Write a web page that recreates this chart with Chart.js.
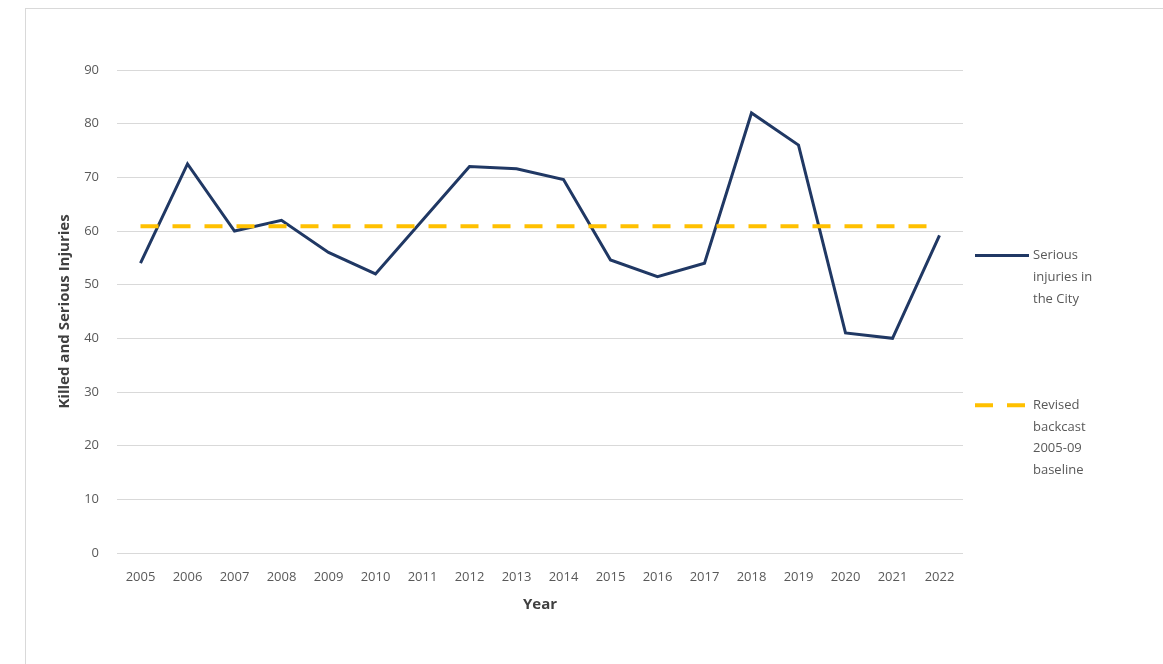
<!DOCTYPE html>
<html>
<head>
<meta charset="utf-8">
<script src="https://cdn.jsdelivr.net/npm/chart.js@4/dist/chart.umd.min.js"></script>
<style>
  html, body { margin: 0; padding: 0; background: #ffffff; }
  #frame {
    position: absolute; left: 25px; top: 8px;
    width: 1160px; height: 680px;
    border: 1px solid #d9d9d9; box-sizing: border-box;
  }
  #wrap { position: absolute; left: 0; top: 0; width: 1163px; height: 664px; }
</style>
</head>
<body>
<div id="frame"></div>
<div id="wrap"><canvas id="kc" width="1163" height="664"></canvas></div>
<script>
// Years on the horizontal axis
const years = ['2005','2006','2007','2008','2009','2010','2011','2012','2013',
               '2014','2015','2016','2017','2018','2019','2020','2021','2022'];

// Killed and serious injuries recorded in the City each year
const seriousInjuries = [54, 72.5, 60, 62, 56, 52, 62, 72, 71.6, 69.6, 54.6, 51.5, 54, 82, 76, 41, 40, 59.2];

// Revised backcast 2005-09 baseline, held flat across the period
const baseline = [60.9, 60.9, 60.9, 60.9, 60.9, 60.9, 60.9, 60.9, 60.9,
                  60.9, 60.9, 60.9, 60.9, 60.9, 60.9, 60.9, 60.9, 60.9];

// Value axis ticks
const yTicks = [0, 10, 20, 30, 40, 50, 60, 70, 80, 90];

const seriesNames = [
  ['Serious', 'injuries in', 'the City'],
  ['Revised', 'backcast', '2005-09', 'baseline']
];

const FONT = "'Open Sans', 'Noto Sans', sans-serif";
const NAVY = '#203864';
const GOLD = '#FFC000';

// Side legend with wrapped labels, laid out to the right of the plot
const sideLegend = {
  id: 'sideLegend',
  afterDraw(chart) {
    const { ctx, chartArea } = chart;
    const h = chartArea.bottom - chartArea.top;
    const x0 = chartArea.right + 12;
    const x1 = x0 + 54;
    const tx = x1 + 4;
    const rows = [chartArea.top + h * 0.384, chartArea.top + h * 0.694];
    const lh = 21.7;
    ctx.save();
    chart.data.datasets.forEach((ds) => {
      const i = ds.legendIndex;
      const y = rows[i];
      ctx.beginPath();
      ctx.strokeStyle = ds.borderColor;
      ctx.lineWidth = ds.borderWidth;
      ctx.setLineDash(ds.borderDash || []);
      ctx.lineCap = 'butt';
      ctx.moveTo(x0, y);
      ctx.lineTo(x1, y);
      ctx.stroke();
      ctx.setLineDash([]);
      ctx.fillStyle = '#595959';
      ctx.font = '13px ' + FONT;
      ctx.textAlign = 'left';
      ctx.textBaseline = 'middle';
      seriesNames[i].forEach((line, k) => ctx.fillText(line, tx, y + k * lh));
    });
    ctx.restore();
  }
};

new Chart(document.getElementById('kc'), {
  type: 'line',
  data: {
    labels: years,
    datasets: [
      {
        label: seriesNames[0].join(' '),
        legendIndex: 0,
        data: seriousInjuries,
        borderColor: NAVY,
        borderWidth: 3,
        pointRadius: 0,
        tension: 0,
        fill: false,
        order: 1
      },
      {
        label: seriesNames[1].join(' '),
        legendIndex: 1,
        data: baseline,
        borderColor: GOLD,
        borderWidth: 4,
        borderDash: [18, 14],
        borderCapStyle: 'butt',
        pointRadius: 0,
        tension: 0,
        fill: false,
        order: 0
      }
    ]
  },
  options: {
    responsive: false,
    animation: false,
    devicePixelRatio: 1,
    layout: { padding: { left: 52, top: 70, right: 200, bottom: 46 } },
    plugins: {
      legend: { display: false },
      tooltip: { enabled: false }
    },
    scales: {
      x: {
        offset: true,
        grid: { display: false, drawTicks: false },
        border: { display: false },
        ticks: {
          color: '#595959',
          font: { family: FONT, size: 13 },
          padding: 16,
          maxRotation: 0,
          autoSkip: false
        },
        title: {
          display: true,
          text: 'Year',
          color: '#404040',
          font: { family: FONT, size: 15, weight: 'bold' },
          padding: { top: 4, bottom: 4 }
        },
        afterFit(scale) { scale.height = 65; }
      },
      y: {
        min: 0,
        max: 90,
        afterBuildTicks(scale) { scale.ticks = yTicks.map(v => ({ value: v })); },
        grid: { color: '#d9d9d9', lineWidth: 1, drawTicks: false },
        border: { display: false },
        ticks: {
          color: '#595959',
          font: { family: FONT, size: 13 },
          padding: 18
        },
        title: {
          display: true,
          text: 'Killed and Serious Injuries',
          color: '#404040',
          font: { family: FONT, size: 15, weight: 'bold' },
          padding: { top: 4, bottom: 4 }
        },
        afterFit(scale) { scale.width = 65; }
      }
    }
  },
  plugins: [sideLegend]
});
</script>
</body>
</html>
